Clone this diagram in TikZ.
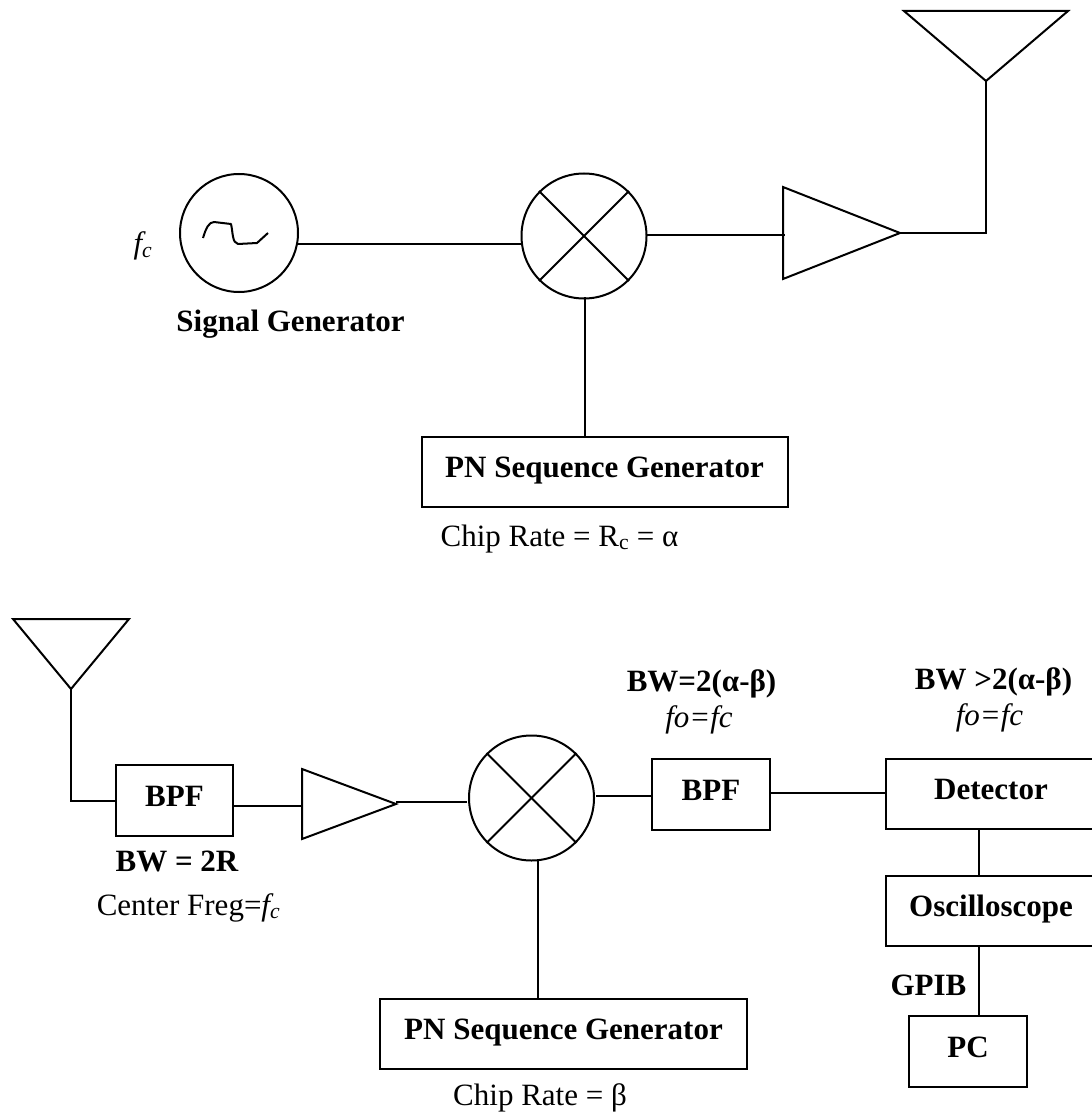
\documentclass[tikz,border=0pt]{standalone}
\usepackage{fontspec}
\setmainfont{Liberation Serif}
\usetikzlibrary{shapes, positioning}
\tikzset{
    block/.style={draw, line width=2pt, minimum height=70pt, inner sep=0pt, text height=21.5pt, text depth=10pt, font=\bfseries\fontsize{31}{34}\selectfont},
    mixer/.style={draw, circle, line width=2pt, minimum size=125pt, inner sep=0pt},
    wire/.style={line width=2pt},
    label/.style={inner sep=0pt, anchor=base, font=\fontsize{31}{34}\selectfont},
    blabel/.style={inner sep=0pt, anchor=base, font=\bfseries\fontsize{31}{34}\selectfont}
}
\begin{document}
\begin{tikzpicture}[x=1pt, y=-1pt]
    \useasboundingbox (0, 0) rectangle (1091, 1115);

    % transmitter
    \node[mixer, minimum size=118pt] (sig) at (239, 233) {};
    \node[mixer] (mix1) at (584, 236) {};
    \draw[wire] (mix1.north west) -- (mix1.south east);
    \draw[wire] (mix1.north east) -- (mix1.south west);
    \draw[wire, line join=round] (203, 238) .. controls (206, 228) and (209, 222) .. (214, 222) -- (231, 224) .. controls (233, 232) and (232, 243) .. (238, 244) -- (257, 243) -- (268, 233);
    \node[block, minimum width=366pt] (pn1) at (604.5, 472) {PN Sequence Generator\hspace{5pt}};
    \coordinate (ant1) at (986, 81);
    \draw[wire] (904, 11) -- (1068, 11) -- (ant1) -- cycle;
    \coordinate (amp1) at (900, 233);
    \draw[wire] (783, 187) -- (783, 279) -- (amp1) -- cycle;
    \coordinate (amp1in) at (785, 235);
    \coordinate (mix1out) at (647, 235);
    \coordinate (pn1up) at (585, 297);
    \coordinate (sigout) at (297, 244);
    \draw[wire] (sigout) -- (mix1.west |- sigout);
    \draw[wire] (mix1out) -- (amp1in);
    \draw[wire] (amp1) -- (986, 233) -- (ant1);
    \draw[wire] (pn1up) -- (pn1up |- pn1.north);

    \node[label] (fc) at (143, 254) {\textit{f\textsubscript{c}}};
    \node[blabel] (siglabel) at (290.5, 331) {Signal Generator};
    \node[label] (chip1) at (559.5, 546) {Chip Rate = R\textsubscript{c} = α};

    % receiver
    \coordinate (ant2) at (71, 689);
    \draw[wire] (13, 619) -- (129, 619) -- (ant2) -- cycle;
    \node[block, minimum width=117pt, minimum height=71pt] (bpf1) at (174.5, 800.5) {BPF};
    \coordinate (amp2) at (396, 804);
    \draw[wire] (302, 769) -- (302, 839) -- (amp2) -- cycle;
    \coordinate (amp2in) at (302, 806);
    \coordinate (amp2out) at (396, 802);
    \node[mixer] (mix2) at (531.5, 798) {};
    \draw[wire] (mix2.north west) -- (mix2.south east);
    \draw[wire] (mix2.north east) -- (mix2.south west);
    \node[block, minimum width=118pt, minimum height=71pt] (bpf2) at (711, 794.5) {BPF};
    \node[block, minimum width=210pt, minimum height=70pt] (det) at (991, 794) {Detector};
    \node[block, minimum width=210pt] (osc) at (991, 911) {Oscilloscope};
    \node[block, minimum width=118pt, minimum height=71pt] (pc) at (968, 1051.5) {PC};
    \node[block, minimum width=367pt, minimum height=70pt] (pn2) at (563.5, 1034) {PN Sequence Generator\hspace{7pt}};
    \coordinate (pn2up) at (538, 860);
    \coordinate (mix2out) at (596, 796);
    \coordinate (bpf2in) at (652, 796);
    \coordinate (bpf2out) at (770, 793);
    \coordinate (detin) at (886, 793);
    \coordinate (detdn) at (979, 829);
    \coordinate (gpibdn) at (979, 1016);

    \draw[wire] (ant2) -- (71, 801) -- (bpf1.west |- 71, 801);
    \draw[wire] (bpf1.east |- amp2in) -- (amp2in);
    \draw[wire] (amp2out) -- (467, 802);
    \draw[wire] (mix2out) -- (bpf2in);
    \draw[wire] (bpf2out) -- (detin);
    \draw[wire] (detdn) -- (detdn |- osc.north);
    \draw[wire] (detdn |- osc.south) -- (gpibdn);
    \draw[wire] (pn2up) -- (pn2up |- pn2.north);

    \node[blabel] (bw1) at (177, 871) {BW = 2R};
    \node[label] (cf) at (188.5, 915) {Center Freg=\textit{f\textsubscript{c}}};
    \node[blabel] (bw2) at (701.5, 691) {BW=2(α-β)};
    \node[label] (fo2) at (699, 727) {\textit{fo=fc}};
    \node[blabel] (bw3) at (993.5, 689) {BW >2(α-β)};
    \node[label] (fo3) at (989.5, 725) {\textit{fo=fc}};
    \node[blabel] (gpib) at (928.5, 995) {GPIB};
    \node[label] (chip2) at (540, 1105) {Chip Rate = β};
\end{tikzpicture}
\end{document}
